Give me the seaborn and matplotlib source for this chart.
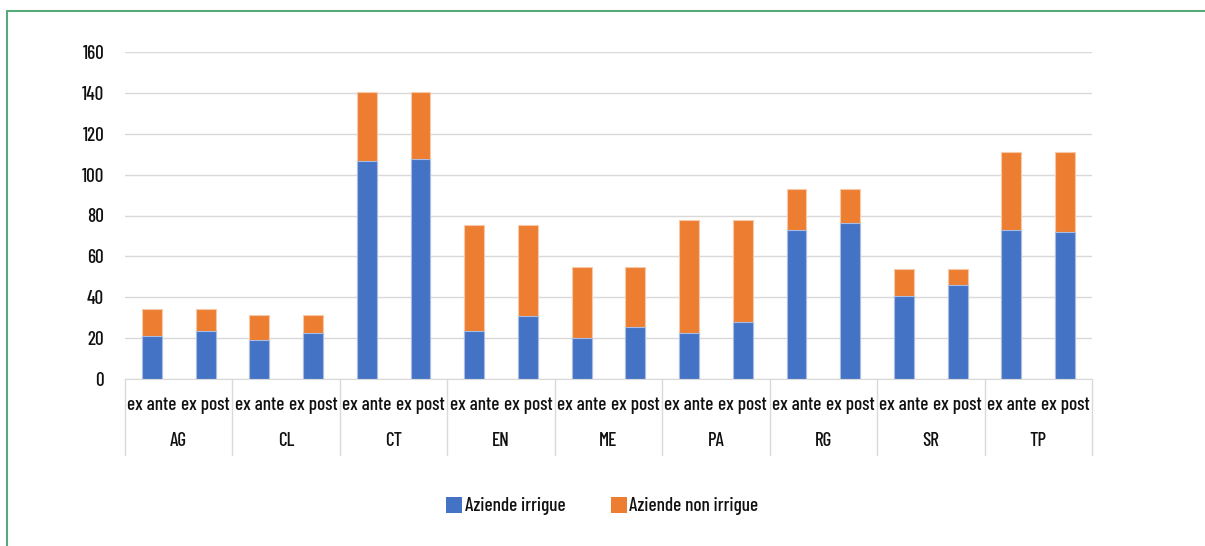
import pandas as pd
import numpy as np
import seaborn as sns
import matplotlib.pyplot as plt
from matplotlib.lines import Line2D
from matplotlib.patches import Patch
import matplotlib.transforms as mtransforms

province = ["AG", "CL", "CT", "EN", "ME", "PA", "RG", "SR", "TP"]
periodi = ["ex ante", "ex post"]

# aziende irrigue (blu) per provincia: ex ante, ex post
irrigue_ante = [21, 19, 106.5, 23.5, 20, 22.5, 73, 40.5, 73]
irrigue_post = [23.5, 22.3, 107.5, 31, 25.5, 28, 76.3, 46, 72]
# totale aziende (irrigue + non irrigue)
totale = [34.2, 31.2, 140.4, 75.3, 54.8, 77.8, 93, 53.8, 111]

blu = "#4472C4"
arancio = "#ED7D31"

righe = []
for i, p in enumerate(province):
    righe.append({"cat": p + " ex ante", "prov": p, "periodo": "ex ante",
                  "irrigue": irrigue_ante[i], "totale": totale[i]})
    righe.append({"cat": p + " ex post", "prov": p, "periodo": "ex post",
                  "irrigue": irrigue_post[i], "totale": totale[i]})
df = pd.DataFrame(righe)
ordine = list(df["cat"])

sns.set_style("white")
plt.rcParams["font.family"] = ["Barlow Condensed", "Liberation Sans Narrow", "DejaVu Sans"]
plt.rcParams["font.weight"] = 500
fs = 13.8

fig = plt.figure(figsize=(12.05, 5.46), dpi=100)
ax = fig.add_axes([125 / 1205, 1 - 379 / 546, (1092 - 125) / 1205, 327 / 546])

# barre impilate: prima il totale (arancio), sopra le irrigue (blu)
sns.barplot(data=df, x="cat", y="totale", order=ordine, color=arancio,
            width=0.37, edgecolor="#f6c9a8", linewidth=0.8, ax=ax, saturation=1)
sns.barplot(data=df, x="cat", y="irrigue", order=ordine, color=blu,
            width=0.37, edgecolor="#a9bde4", linewidth=0.8, ax=ax, saturation=1)

ax.set_ylim(0, 160)
ax.set_xlim(-0.5, len(ordine) - 0.5)
ax.set_yticks(range(0, 161, 20))
ax.yaxis.grid(True, color="#d9d9d9", linewidth=1)
ax.set_axisbelow(True)
for s in ["top", "right", "left"]:
    ax.spines[s].set_visible(False)
ax.spines["bottom"].set_color("#d9d9d9")
ax.set_xlabel("")
ax.set_ylabel("")
ax.tick_params(axis="both", length=0, labelsize=fs, colors="#111111")
ax.tick_params(axis="y", pad=15)
ax.set_xticks(range(len(ordine)))
ax.set_xticklabels(list(df["periodo"]))
ax.tick_params(axis="x", pad=12)

# etichette delle province e separatori
trans = mtransforms.blended_transform_factory(ax.transData, ax.transAxes)
for i, p in enumerate(province):
    ax.text(2 * i + 0.5, -62 / 327, p, transform=trans, ha="center", va="center",
            fontsize=fs, color="#111111")
for k in range(len(province) + 1):
    ax.plot([2 * k - 0.5, 2 * k - 0.5], [0, -76 / 327], transform=trans,
            color="#d9d9d9", linewidth=1, clip_on=False)

handles = [Patch(facecolor=blu, edgecolor="none", label="Aziende irrigue"),
           Patch(facecolor=arancio, edgecolor="none", label="Aziende non irrigue")]
fig.legend(handles=handles, loc="center", bbox_to_anchor=(0.5, 1 - 506 / 546),
           ncol=2, frameon=False, fontsize=fs, handlelength=0.8, handleheight=0.9,
           handletextpad=0.15, columnspacing=2.4, labelcolor="#111111")

# cornice verde
verde = "#55a97b"
fig.add_artist(Line2D([7.5 / 1205, 7.5 / 1205], [0, 1 - 10.5 / 546], color=verde,
                      linewidth=1.5, transform=fig.transFigure))
fig.add_artist(Line2D([7.5 / 1205, 1], [1 - 10.5 / 546, 1 - 10.5 / 546], color=verde,
                      linewidth=1.5, transform=fig.transFigure))

fig.savefig("out.png", dpi=100)
